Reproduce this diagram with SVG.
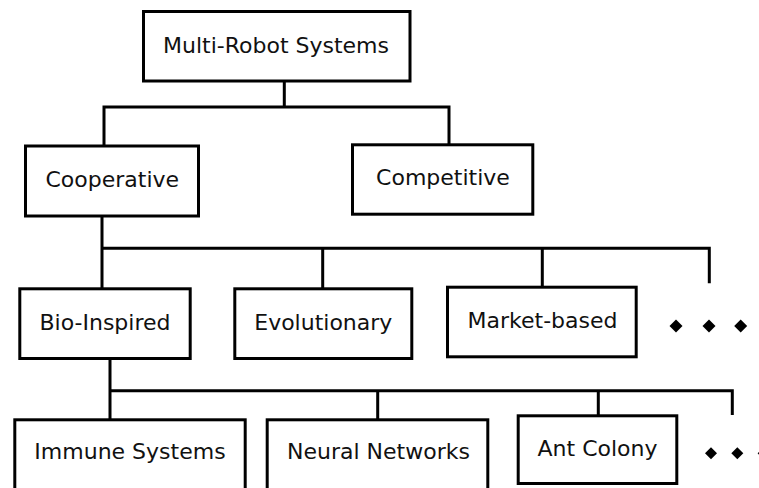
<svg xmlns="http://www.w3.org/2000/svg" width="759" height="488" viewBox="0 0 759 488">
  <style>
    .box { fill: #ffffff; stroke: #000000; stroke-width: 3; }
    .label { font-family: "DejaVu Sans", "Liberation Sans", sans-serif; font-size: 22px; fill: #111111; text-anchor: middle; }
    .wire { fill: none; stroke: #000000; stroke-width: 3; stroke-linejoin: miter; stroke-linecap: butt; }
    .dot { fill: #000000; }
  </style>
  <defs>
    <path id="diamond" d="M0,-6.5 L6.5,0 L0,6.5 L-6.5,0 Z"/>
    <path id="diamond-small" d="M0,-6 L6,0 L0,6 L-6,0 Z"/>
  </defs>
  <rect width="759" height="488" fill="#ffffff"/>

  <!-- connectors of the hierarchy -->
  <g id="connectors">
    <!-- Multi-Robot Systems -> Cooperative / Competitive -->
    <path class="wire" d="M284.3,81 V107 M104,146 V107 H449 V144.8"/>
    <!-- Cooperative -> Bio-Inspired / Evolutionary / Market-based / more -->
    <path class="wire" d="M102,216 V288.8 M102,248.3 H709.3 V283.3 M322.7,248.3 V288.8 M542.3,248.3 V287.2"/>
    <!-- Bio-Inspired -> Immune Systems / Neural Networks / Ant Colony / more -->
    <path class="wire" d="M110,358.5 V419.8 M110,390.7 H732.3 V415 M377.7,390.7 V419.8 M598.3,390.7 V415.8"/>
  </g>

  <g id="multi-robot-systems">
    <rect class="box" x="143.5" y="11.5" width="266.5" height="69.5"/>
    <text class="label" x="276" y="53.3">Multi-Robot Systems</text>
  </g>

  <g id="cooperative">
    <rect class="box" x="25.5" y="146" width="173" height="70"/>
    <text class="label" x="112.3" y="186.7">Cooperative</text>
  </g>

  <g id="competitive">
    <rect class="box" x="352.5" y="144.8" width="180.3" height="69.4"/>
    <text class="label" x="443" y="184.5">Competitive</text>
  </g>

  <g id="bio-inspired">
    <rect class="box" x="19.8" y="288.8" width="170.4" height="69.7"/>
    <text class="label" x="105" y="330">Bio-Inspired</text>
  </g>

  <g id="evolutionary">
    <rect class="box" x="234.8" y="288.8" width="177" height="69.7"/>
    <text class="label" x="323.3" y="330">Evolutionary</text>
  </g>

  <g id="market-based">
    <rect class="box" x="447.5" y="287.2" width="188.7" height="69.6"/>
    <text class="label" x="542.5" y="327.7">Market-based</text>
  </g>

  <g id="more-cooperative">
    <use class="dot" href="#diamond" x="676" y="326"/>
    <use class="dot" href="#diamond" x="709" y="326"/>
    <use class="dot" href="#diamond" x="740.7" y="326"/>
  </g>

  <g id="immune-systems">
    <rect class="box" x="14.8" y="419.8" width="230.4" height="70"/>
    <text class="label" x="130" y="459.3">Immune Systems</text>
  </g>

  <g id="neural-networks">
    <rect class="box" x="267.2" y="419.8" width="220.6" height="70"/>
    <text class="label" x="378.5" y="459.3">Neural Networks</text>
  </g>

  <g id="ant-colony">
    <rect class="box" x="518.2" y="415.8" width="158.6" height="67.7"/>
    <text class="label" x="597.5" y="456">Ant Colony</text>
  </g>

  <g id="more-bio-inspired">
    <use class="dot" href="#diamond-small" x="711" y="453.3"/>
    <use class="dot" href="#diamond-small" x="737.3" y="453.3"/>
    <use class="dot" href="#diamond-small" x="763.6" y="453.3"/>
  </g>
</svg>
